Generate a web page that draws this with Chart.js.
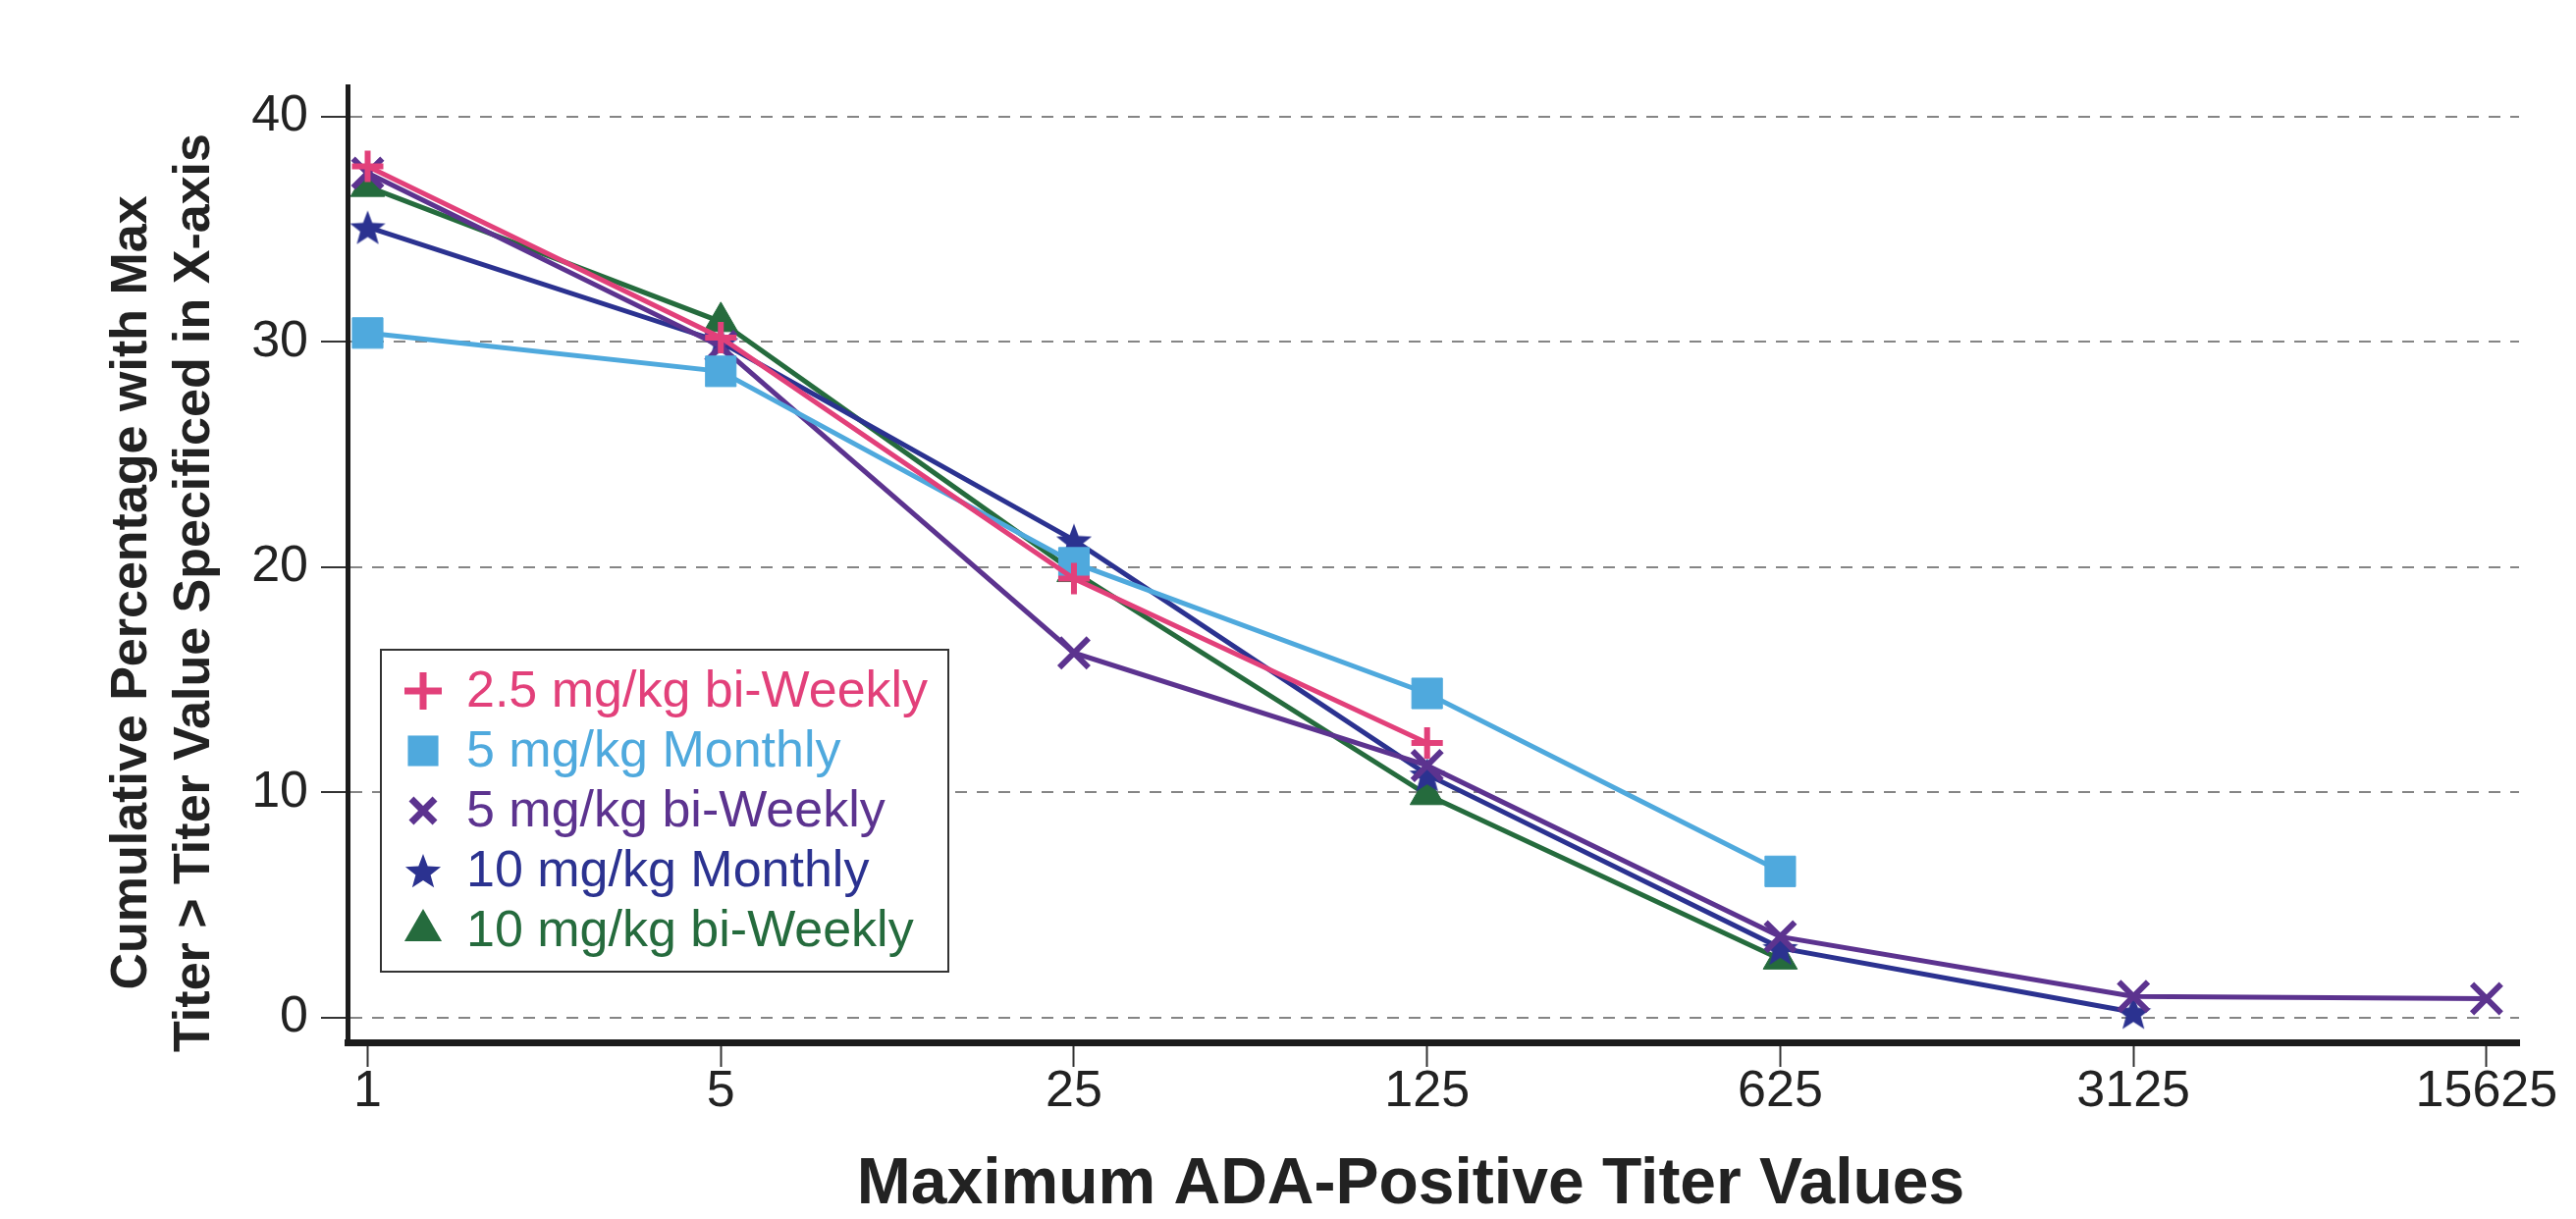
<!DOCTYPE html>
<html><head><meta charset="utf-8">
<script src="https://cdn.jsdelivr.net/npm/chart.js@4.4.1/dist/chart.umd.min.js"></script>
<style>html,body{margin:0;padding:0;background:#fff;} #wrap{width:2624px;height:1242px;position:relative;}</style>
</head><body><div id="wrap"><canvas id="c" width="2624" height="1242"></canvas></div>
<script>
// ---- data ----
const titers = [1, 5, 25, 125, 625, 3125, 15625];
const tickLabels = ['1', '5', '25', '125', '625', '3125', '15625'];
const yTicks = [0, 10, 20, 30, 40];
const seriesNames = ['2.5 mg/kg bi-Weekly', '5 mg/kg Monthly', '5 mg/kg bi-Weekly', '10 mg/kg Monthly', '10 mg/kg bi-Weekly'];
const s25BiWeekly = [37.8, 30.2, 19.5, 12.2, null, null, null];
const s5Monthly = [30.4, 28.7, 20.2, 14.4, 6.5, null, null];
const s5BiWeekly = [37.5, 29.8, 16.2, 11.2, 3.6, 0.95, 0.85];
const s10Monthly = [35.1, 30.0, 21.2, 10.8, 3.1, 0.25, null];
const s10BiWeekly = [36.9, 30.9, 19.8, 9.9, 2.6, null, null];
const yTitleLines = ['Cumulative Percentage with Max', 'Titer > Titer Value Specificed in X-axis'];
const xTitle = 'Maximum ADA-Positive Titer Values';

// ---- styles ----
const colors = ['#E2407A', '#4FA9DD', '#5C338F', '#2B3290', '#256B3D'];
const FONT = "'Liberation Sans', Arial, sans-serif";

function makeStar(color, size) {
  const c = document.createElement('canvas');
  c.width = size; c.height = size;
  const g = c.getContext('2d');
  const cx = size / 2, cy = size / 2 + size * 0.05, R = size / 2 - 1, r = R * 0.42;
  g.beginPath();
  for (let i = 0; i < 10; i++) {
    const a = -Math.PI / 2 + i * Math.PI / 5;
    const rr = i % 2 ? r : R;
    g.lineTo(cx + rr * Math.cos(a), cy + rr * Math.sin(a));
  }
  g.closePath(); g.fillStyle = color; g.fill();
  return c;
}
const starImg = makeStar(colors[3], 40);
const starImgLegend = makeStar(colors[3], 40);

const seriesValues = [s25BiWeekly, s5Monthly, s5BiWeekly, s10Monthly, s10BiWeekly];
const pointStyles = ['cross', 'rect', 'crossRot', starImg, 'triangle'];
const pointRadii = [16, 22, 21, 19, 20];
const pointBorder = [6, 1, 6, 1, 1];

const datasets = seriesValues.map((vals, i) => ({
  label: seriesNames[i],
  data: titers.map((t, k) => ({ x: t, y: vals[k] })),
  borderColor: colors[i],
  backgroundColor: colors[i],
  borderWidth: 5,
  pointStyle: pointStyles[i],
  pointRadius: pointRadii[i],
  pointBorderWidth: pointBorder[i],
  pointBackgroundColor: colors[i],
  pointBorderColor: colors[i],
  tension: 0,
  fill: false
}));

function drawMarker(ctx, style, x, y, r, color, bw) {
  ctx.save();
  ctx.fillStyle = color; ctx.strokeStyle = color; ctx.lineWidth = bw;
  if (style instanceof HTMLCanvasElement) {
    ctx.drawImage(style, x - style.width / 2, y - style.height / 2);
  } else if (style === 'cross') {
    ctx.beginPath(); ctx.moveTo(x - r, y); ctx.lineTo(x + r, y); ctx.moveTo(x, y - r); ctx.lineTo(x, y + r); ctx.stroke();
  } else if (style === 'crossRot') {
    const o = r * Math.SQRT1_2;
    ctx.beginPath(); ctx.moveTo(x - o, y - o); ctx.lineTo(x + o, y + o); ctx.moveTo(x - o, y + o); ctx.lineTo(x + o, y - o); ctx.stroke();
  } else if (style === 'rect') {
    const s = r * Math.SQRT1_2;
    ctx.fillRect(x - s, y - s, 2 * s, 2 * s);
  } else if (style === 'triangle') {
    ctx.beginPath();
    ctx.moveTo(x, y - r);
    ctx.lineTo(x + r * Math.sin(2 * Math.PI / 3), y + r / 2);
    ctx.lineTo(x - r * Math.sin(2 * Math.PI / 3), y + r / 2);
    ctx.closePath(); ctx.fill();
  }
  ctx.restore();
}

const boxLegend = {
  id: 'boxLegend',
  afterDraw(chart) {
    const ctx = chart.ctx;
    ctx.save();
    ctx.fillStyle = '#ffffff';
    ctx.fillRect(388, 662, 578, 328);
    ctx.strokeStyle = '#333333'; ctx.lineWidth = 2;
    ctx.strokeRect(388, 662, 578, 328);
    ctx.font = '52px ' + FONT;
    ctx.textBaseline = 'middle'; ctx.textAlign = 'left';
    chart.data.datasets.forEach((ds, i) => {
      const y = 704 + i * 61;
      const st = i === 3 ? starImgLegend : pointStyles[i];
      const rr = [19, 22, 17, 18, 22][i];
      drawMarker(ctx, st, 431, y, rr, colors[i], 7);
      ctx.fillStyle = colors[i];
      ctx.fillText(ds.label, 475, y + 2);
    });
    ctx.restore();
  }
};

const axisTitles = {
  id: 'axisTitles',
  afterDraw(chart) {
    const ctx = chart.ctx;
    ctx.save();
    ctx.fillStyle = '#222222';
    ctx.textAlign = 'center'; ctx.textBaseline = 'middle';
    ctx.font = 'bold 52px ' + FONT;
    const xs = [135, 199];
    yTitleLines.forEach((t, i) => {
      ctx.save();
      ctx.translate(xs[i], 604);
      ctx.rotate(-Math.PI / 2);
      ctx.fillText(t, 0, 0);
      ctx.restore();
    });
    ctx.font = 'bold 66px ' + FONT;
    ctx.fillText(xTitle, 1437, 1208);
    ctx.restore();
  }
};

new Chart(document.getElementById('c'), {
  type: 'line',
  data: { datasets },
  plugins: [boxLegend, axisTitles],
  options: {
    responsive: false,
    animation: false,
    layout: { padding: { top: 88, right: 58, left: 0, bottom: 0 } },
    plugins: { legend: { display: false }, tooltip: { enabled: false }, title: { display: false } },
    scales: {
      x: {
        type: 'logarithmic',
        min: Math.pow(5, -0.057),
        max: Math.pow(5, 6.092),
        afterBuildTicks: s => { s.ticks = titers.map(v => ({ value: v })); },
        afterFit: s => { s.height = 180; },
        ticks: {
          callback: (v, idx) => tickLabels[idx],
          font: { family: FONT, size: 52, lineHeight: 1 },
          color: '#222222', padding: 0, maxRotation: 0, minRotation: 0, autoSkip: false
        },
        grid: { drawOnChartArea: false, drawTicks: true, tickLength: 25, tickWidth: 2, tickColor: '#333333' },
        border: { display: true, color: '#1c1c1c', width: 7 }
      },
      y: {
        type: 'linear',
        min: -1.09,
        max: 41.35,
        afterBuildTicks: s => { s.ticks = yTicks.map(v => ({ value: v })); },
        afterFit: s => { s.width = 354; },
        ticks: {
          callback: v => String(v),
          font: { family: FONT, size: 52 },
          color: '#222222', padding: 13
        },
        grid: { color: '#858585', lineWidth: 2, drawTicks: true, tickLength: 27, tickWidth: 2, tickColor: '#333333' },
        border: { display: true, color: '#1c1c1c', width: 5, dash: [12, 10] }
      }
    }
  }
});
</script>
</body></html>
